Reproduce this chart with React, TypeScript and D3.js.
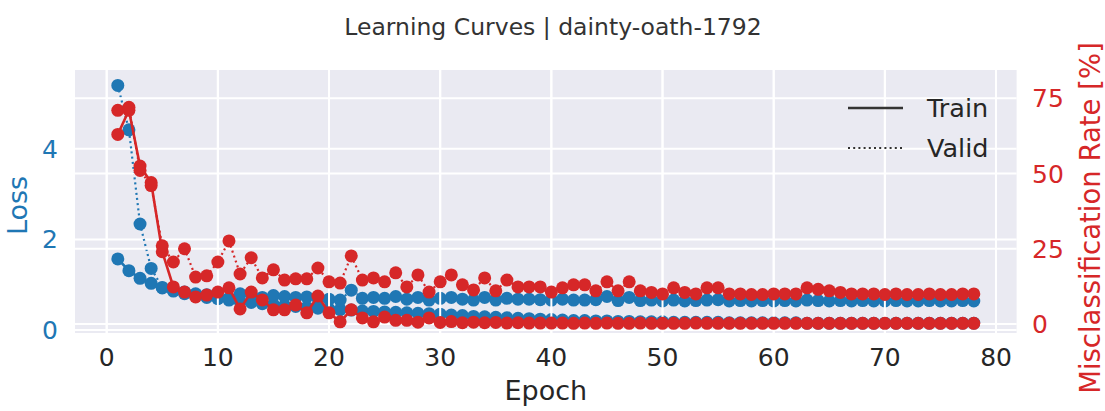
import React from "react";
import * as d3 from "d3";

// Per-epoch metrics (epochs 1..78)
const trainLoss = [
  1.57, 1.31, 1.14, 1.03, 0.93, 0.86, 0.8, 0.76, 0.72, 0.69,
  0.66, 0.63, 0.61, 0.58, 0.56, 0.54, 0.52, 0.5, 0.48, 0.46,
  0.45, 0.44, 0.42, 0.41, 0.4, 0.39, 0.38, 0.37, 0.36, 0.35,
  0.33, 0.32, 0.3, 0.29, 0.28, 0.27, 0.26, 0.25, 0.24, 0.23,
  0.22, 0.21, 0.21, 0.2, 0.2, 0.19, 0.19, 0.18, 0.18, 0.18,
  0.17, 0.17, 0.17, 0.17, 0.17, 0.16, 0.16, 0.16, 0.16, 0.16,
  0.16, 0.16, 0.15, 0.15, 0.15, 0.15, 0.15, 0.15, 0.15, 0.15,
  0.15, 0.15, 0.15, 0.15, 0.15, 0.15, 0.15, 0.15,
];
const validLoss = [
  5.4, 4.42, 2.34, 1.36, 0.94, 0.88, 0.84, 0.8, 0.78, 0.72,
  0.7, 0.8, 0.78, 0.72, 0.76, 0.74, 0.72, 0.73, 0.7, 0.68,
  0.66, 0.88, 0.7, 0.72, 0.7, 0.74, 0.68, 0.72, 0.66, 0.7,
  0.72, 0.68, 0.66, 0.72, 0.66, 0.7, 0.68, 0.68, 0.67, 0.66,
  0.68, 0.66, 0.66, 0.67, 0.74, 0.65, 0.72, 0.65, 0.66, 0.64,
  0.66, 0.64, 0.65, 0.66, 0.67, 0.64, 0.65, 0.64, 0.65, 0.64,
  0.65, 0.64, 0.66, 0.65, 0.64, 0.65, 0.64, 0.65, 0.64, 0.64,
  0.65, 0.64, 0.64, 0.65, 0.64, 0.64, 0.65, 0.64,
];
const trainErr = [
  63, 71, 52.5, 47, 24, 12.3, 10.6, 9, 9.6, 10.6,
  12, 5, 10.6, 8, 4.7, 4.7, 6.3, 3.7, 9.3, 3.7,
  0.7, 4.7, 2, 0.7, 2.3, 1.2, 1.2, 0.6, 2, 0.5,
  0.8, 0.4, 0.6, 0.4, 0.5, 0.3, 0.4, 0.3, 0.3, 0.3,
  0.3, 0.2, 0.3, 0.2, 0.3, 0.2, 0.2, 0.3, 0.2, 0.2,
  0.2, 0.2, 0.3, 0.2, 0.2, 0.2, 0.2, 0.2, 0.2, 0.2,
  0.2, 0.2, 0.2, 0.2, 0.2, 0.2, 0.2, 0.2, 0.2, 0.2,
  0.2, 0.2, 0.2, 0.2, 0.2, 0.2, 0.2, 0.2,
];
const validErr = [
  71, 72, 51, 46, 26, 20.6, 25, 15.6, 16, 20.6,
  27.6, 16.6, 22, 15.3, 18, 14.6, 15, 15, 18.6, 14,
  13.6, 22.6, 14.6, 15.3, 14, 17, 12.3, 16.3, 10.6, 14,
  16.3, 13, 11.3, 15.3, 11, 14.6, 12.3, 12.3, 12.3, 10.6,
  12, 13, 13, 11, 14, 11, 14, 11, 10.5, 10,
  12, 10.5, 10, 12, 12, 10, 10, 9.8, 9.8, 10,
  10, 10, 12, 11.5, 11, 10.5, 10, 10, 10, 9.8,
  10, 9.8, 9.8, 10, 9.8, 9.8, 10, 10,
];

const xTicks = [0, 10, 20, 30, 40, 50, 60, 70, 80];
const lossTicks = [0, 2, 4];
const errTicks = [0, 25, 50, 75];

const W = 1105;
const H = 411;
const plot = { left: 75, right: 1016.6, top: 70, bottom: 333 };
const BLUE = "#1f77b4";
const RED = "#d62728";
const INK = "#262626";
const FONT = "DejaVu Sans, sans-serif";

const epochs = trainLoss.map((_, i) => i + 1);

const x = d3.scaleLinear().domain([-2.85, 81.85]).range([plot.left, plot.right]);
const yLoss = d3.scaleLinear().domain([-0.066, 5.74]).range([plot.bottom, plot.top]);
const yErr = d3.scaleLinear().domain([-3.0, 84.4]).range([plot.bottom, plot.top]);

type Scale = d3.ScaleLinear<number, number>;

function Series({ values, y, color, dotted }: { values: number[]; y: Scale; color: string; dotted?: boolean }) {
  const line = d3
    .line<number>()
    .x((_, i) => x(epochs[i]))
    .y((v) => y(v));
  return (
    <g>
      <path
        d={line(values) || ""}
        fill="none"
        stroke={color}
        strokeWidth={dotted ? 2.2 : 2.6}
        strokeDasharray={dotted ? "2 3.2" : undefined}
        strokeLinecap={dotted ? "butt" : "round"}
      />
      {values.map((v, i) => (
        <circle key={i} cx={x(epochs[i])} cy={y(v)} r={6.5} fill={color} />
      ))}
    </g>
  );
}

function Grid({ ticks, y }: { ticks: number[]; y: Scale }) {
  return (
    <g>
      {xTicks.map((t) => (
        <line key={"x" + t} x1={x(t)} x2={x(t)} y1={plot.top} y2={plot.bottom} stroke="#fff" strokeWidth={2} />
      ))}
      {ticks.map((t) => (
        <line key={"y" + t} x1={plot.left} x2={plot.right} y1={y(t)} y2={y(t)} stroke="#fff" strokeWidth={2} />
      ))}
    </g>
  );
}

export default function App() {
  return (
    <div style={{ position: "fixed", left: 0, top: 0 }}>
      <svg width={W} height={H} viewBox={`0 0 ${W} ${H}`} style={{ display: "block", background: "#fff" }}>
        <text x={553} y={35} textAnchor="middle" fontFamily={FONT} fontSize={23.5} fill="#333">
          Learning Curves | dainty-oath-1792
        </text>

        <rect x={plot.left} y={plot.top} width={plot.right - plot.left} height={plot.bottom - plot.top} fill="#eaeaf2" />

        <clipPath id="plot-clip">
          <rect x={plot.left} y={plot.top} width={plot.right - plot.left} height={plot.bottom - plot.top} />
        </clipPath>

        {/* loss axes */}
        <Grid ticks={lossTicks} y={yLoss} />
        <g clipPath="url(#plot-clip)">
          <Series values={trainLoss} y={yLoss} color={BLUE} />
          <Series values={validLoss} y={yLoss} color={BLUE} dotted />
        </g>

        {/* misclassification twin axes */}
        <Grid ticks={errTicks} y={yErr} />
        <g clipPath="url(#plot-clip)">
          <Series values={trainErr} y={yErr} color={RED} />
          <Series values={validErr} y={yErr} color={RED} dotted />
        </g>

        {/* x axis */}
        {xTicks.map((t) => (
          <text key={t} x={x(t)} y={366} textAnchor="middle" fontFamily={FONT} fontSize={25} fill={INK}>
            {t}
          </text>
        ))}
        <text x={(plot.left + plot.right) / 2} y={400} textAnchor="middle" fontFamily={FONT} fontSize={27} fill={INK}>
          Epoch
        </text>

        {/* left axis */}
        {lossTicks.map((t) => (
          <text key={t} x={58} y={yLoss(t)} dy="0.36em" textAnchor="end" fontFamily={FONT} fontSize={25} fill={BLUE}>
            {t}
          </text>
        ))}
        <text
          transform={`translate(27, ${(plot.top + plot.bottom) / 2 + 4}) rotate(-90)`}
          textAnchor="middle"
          fontFamily={FONT}
          fontSize={27}
          fill={BLUE}
        >
          Loss
        </text>

        {/* right axis */}
        {errTicks.map((t) => (
          <text key={t} x={1032} y={yErr(t)} dy="0.36em" textAnchor="start" fontFamily={FONT} fontSize={25} fill={RED}>
            {t}
          </text>
        ))}
        <text
          transform={`translate(1100, 218) rotate(-90)`}
          textAnchor="middle"
          fontFamily={FONT}
          fontSize={27.5}
          fill={RED}
        >
          Misclassification Rate [%]
        </text>

        {/* legend */}
        <line x1={848} x2={903} y1={108} y2={108} stroke="#333" strokeWidth={2.4} />
        <line x1={848} x2={903} y1={148} y2={148} stroke="#333" strokeWidth={2} strokeDasharray="2 3.2" />
        <text x={927} y={108} dy="0.36em" fontFamily={FONT} fontSize={25.5} fill={INK}>
          Train
        </text>
        <text x={927} y={148} dy="0.36em" fontFamily={FONT} fontSize={25.5} fill={INK}>
          Valid
        </text>
      </svg>
    </div>
  );
}
